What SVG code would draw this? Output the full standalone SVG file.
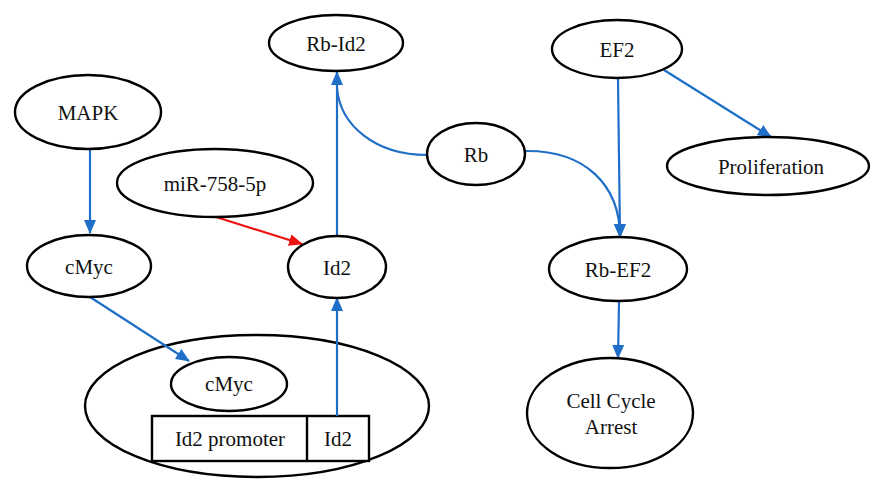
<svg xmlns="http://www.w3.org/2000/svg" width="870" height="479" viewBox="0 0 870 479">
  <style>
    .shape { fill: #ffffff; stroke: #000000; stroke-width: 2.4; }
    .label { font-family: "Liberation Serif", "Times New Roman", serif; font-size: 21px; fill: #111111; text-anchor: middle; }
    .edge { fill: none; stroke: #1f6fc8; stroke-width: 2.2; }
    .edge-red { fill: none; stroke: #ee1111; stroke-width: 2.2; }
  </style>
  <defs>
    <marker id="arrow-blue" viewBox="0 0 14 12" refX="13" refY="6" markerWidth="14" markerHeight="12" markerUnits="userSpaceOnUse" orient="auto">
      <path d="M0,0 L14,6 L0,12 Z" fill="#1f6fc8"/>
    </marker>
    <marker id="arrow-red" viewBox="0 0 14 12" refX="13" refY="6" markerWidth="14" markerHeight="12" markerUnits="userSpaceOnUse" orient="auto">
      <path d="M0,0 L14,6 L0,12 Z" fill="#ee1111"/>
    </marker>
  </defs>

  <rect width="870" height="479" fill="#ffffff"/>

  <!-- nucleus: cMyc binding the Id2 promoter -->
  <g id="nucleus">
    <ellipse class="shape" cx="257" cy="406" rx="172" ry="71"/>
  </g>
  <g id="cmyc-nuclear">
    <ellipse class="shape" cx="229" cy="384" rx="58" ry="27"/>
    <text class="label" x="229" y="391">cMyc</text>
  </g>
  <g id="id2-gene">
    <rect class="shape" x="152" y="416" width="217" height="45"/>
    <line x1="307" y1="416" x2="307" y2="461" stroke="#000" stroke-width="2.4"/>
    <text class="label" x="230" y="446">Id2 promoter</text>
    <text class="label" x="338" y="446">Id2</text>
  </g>

  <!-- connectors -->
  <g id="connectors">
    <line class="edge" x1="90" y1="149" x2="90" y2="233" marker-end="url(#arrow-blue)"/>
    <line class="edge" x1="90" y1="297" x2="189" y2="361" marker-end="url(#arrow-blue)"/>
    <line class="edge-red" x1="216" y1="217" x2="302" y2="244" marker-end="url(#arrow-red)"/>
    <line class="edge" x1="337" y1="416" x2="337" y2="298" marker-end="url(#arrow-blue)"/>
    <line class="edge" x1="337" y1="235" x2="337" y2="72" marker-end="url(#arrow-blue)"/>
    <path class="edge" d="M427,155 C375,155 340,125 337,88"/>
    <path class="edge" d="M525,151 C585,150 620,185 620,237" marker-end="url(#arrow-blue)"/>
    <line class="edge" x1="618" y1="78" x2="620" y2="237" marker-end="url(#arrow-blue)"/>
    <line class="edge" x1="664" y1="70" x2="771" y2="137" marker-end="url(#arrow-blue)"/>
    <line class="edge" x1="619" y1="302" x2="618" y2="358" marker-end="url(#arrow-blue)"/>
  </g>

  <!-- nodes -->
  <g id="rb-id2">
    <ellipse class="shape" cx="336" cy="43" rx="67" ry="28"/>
    <text class="label" x="336" y="51">Rb-Id2</text>
  </g>
  <g id="ef2">
    <ellipse class="shape" cx="617" cy="49" rx="65" ry="29"/>
    <text class="label" x="617" y="57">EF2</text>
  </g>
  <g id="mapk">
    <ellipse class="shape" cx="88" cy="112" rx="73" ry="37"/>
    <text class="label" x="88" y="120">MAPK</text>
  </g>
  <g id="mir-758-5p">
    <ellipse class="shape" cx="215" cy="183" rx="98" ry="34"/>
    <text class="label" x="215" y="191">miR-758-5p</text>
  </g>
  <g id="rb">
    <ellipse class="shape" cx="476" cy="154" rx="49" ry="31"/>
    <text class="label" x="476" y="162">Rb</text>
  </g>
  <g id="proliferation">
    <ellipse class="shape" cx="768" cy="166" rx="101" ry="29"/>
    <text class="label" x="771" y="174">Proliferation</text>
  </g>
  <g id="cmyc">
    <ellipse class="shape" cx="89" cy="266" rx="62" ry="31"/>
    <text class="label" x="89" y="274">cMyc</text>
  </g>
  <g id="id2">
    <ellipse class="shape" cx="337" cy="267" rx="49" ry="31"/>
    <text class="label" x="337" y="275">Id2</text>
  </g>
  <g id="rb-ef2">
    <ellipse class="shape" cx="618" cy="269" rx="69" ry="32"/>
    <text class="label" x="618" y="277">Rb-EF2</text>
  </g>
  <g id="cell-cycle-arrest">
    <ellipse class="shape" cx="610" cy="413" rx="83" ry="55"/>
    <text class="label" x="611" y="408">Cell Cycle</text>
    <text class="label" x="611" y="434">Arrest</text>
  </g>
</svg>
